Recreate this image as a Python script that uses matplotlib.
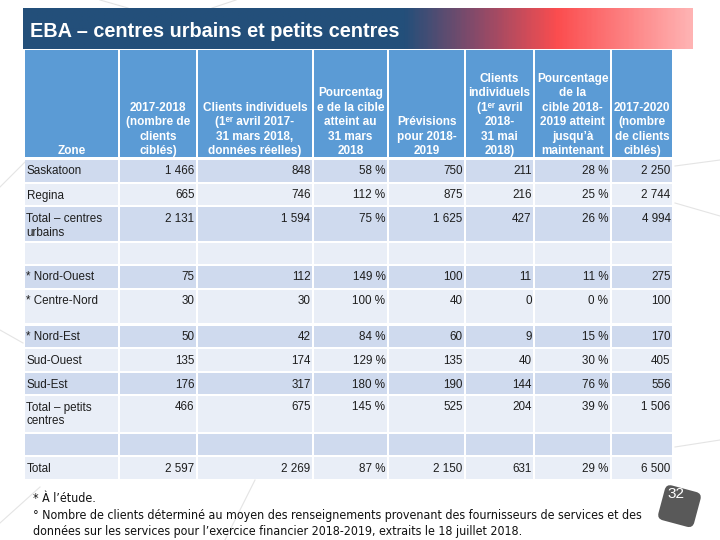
import matplotlib
matplotlib.use("Agg")
import numpy as np
import matplotlib.pyplot as plt
from matplotlib.patches import Rectangle, FancyBboxPatch
from matplotlib.colors import LinearSegmentedColormap
from matplotlib.transforms import Affine2D

# ---- contenu du tableau ----
titre = "EBA – centres urbains et petits centres"

entetes = [
    ["Zone"],
    ["2017-2018", "(nombre de", "clients", "ciblés)"],
    ["Clients individuels", "(1ᵉʳ avril 2017-", "31 mars 2018,", "données réelles)"],
    ["Pourcentag", "e de la cible", "atteint au", "31 mars", "2018"],
    ["Prévisions", "pour 2018-", "2019"],
    ["Clients", "individuels", "(1ᵉʳ avril", "2018-", "31 mai", "2018)"],
    ["Pourcentage", "de la", "cible 2018-", "2019 atteint", "jusqu’à", "maintenant"],
    ["2017-2020", "(nombre", "de clients", "ciblés)"],
]

zones = ["Saskatoon", "Regina", "Total – centres\nurbains", "", "* Nord-Ouest",
         "* Centre-Nord", "* Nord-Est", "Sud-Ouest", "Sud-Est",
         "Total – petits\ncentres", "", "Total"]
cibles_1718 = [1466, 665, 2131, None, 75, 30, 50, 135, 176, 466, None, 2597]
clients_1718 = [848, 746, 1594, None, 112, 30, 42, 174, 317, 675, None, 2269]
pct_1718 = [58, 112, 75, None, 149, 100, 84, 129, 180, 145, None, 87]
prevision_1819 = [750, 875, 1625, None, 100, 40, 60, 135, 190, 525, None, 2150]
clients_1819 = [211, 216, 427, None, 11, 0, 9, 40, 144, 204, None, 631]
pct_1819 = [28, 25, 26, None, 11, 0, 15, 30, 76, 39, None, 29]
cibles_1720 = [2250, 2744, 4994, None, 275, 100, 170, 405, 556, 1506, None, 6500]

notes = ["* À l’étude.",
         "° Nombre de clients déterminé au moyen des renseignements provenant des fournisseurs de services et des",
         "données sur les services pour l’exercice financier 2018-2019, extraits le 18 juillet 2018."]
num_page = "32"

# ---- mise en page (pixels) ----
col_x = [25, 119, 197, 313, 388, 465, 534, 611, 673]
row_top = [160, 184, 207, 243, 266, 290, 326, 349, 373, 396, 434, 457]
row_bot = [182, 205, 241, 264, 288, 323, 347, 371, 394, 432, 455, 479]
head_top, head_bot = 50, 157

BLEU = "#5b9bd5"
FONCE = "#cfdaee"
CLAIR = "#e9eef7"
TXT = "#1e1e1e"
POLICE = ["Liberation Sans", "DejaVu Sans"]


def fr(n):
    return f"{n:,}".replace(",", " ")


def pct(p):
    return f"{p} %"


fig = plt.figure(figsize=(7.2, 5.4), dpi=100)
ax = fig.add_axes([0, 0, 1, 1])
ax.set_xlim(0, 720)
ax.set_ylim(540, 0)
ax.axis("off")
renderer = fig.canvas.get_renderer()


def ajuster(t, largeur):
    # met la police à l'échelle pour que le texte fasse la largeur voulue
    w = t.get_window_extent(renderer).width
    t.set_fontsize(t.get_fontsize() * largeur / w)


# décor discret en fond
for (x0, y0, x1, y1) in [(100, 0, 128, 8), (212, 8, 236, 0), (0, 187, 25, 162),
                         (0, 330, 23, 343), (0, 523, 40, 487), (675, 166, 720, 160),
                         (675, 203, 720, 216), (675, 447, 720, 440), (255, 480, 225, 540)]:
    ax.plot([x0, x1], [y0, y1], color="#e4e4e4", lw=0.8, zorder=0)

# bandeau titre en dégradé
cmap = LinearSegmentedColormap.from_list("bandeau", [
    (0.0, "#234f7a"), (0.57, "#234f7a"), (0.68, "#8a4a69"),
    (0.80, "#fb4d4f"), (1.0, "#ffb3b3")])
ax.imshow(np.linspace(0, 1, 400)[None, :], cmap=cmap, aspect="auto",
          extent=[23, 693, 49, 8], zorder=1)
t = ax.text(30, 37, titre, color="white", fontsize=14, fontweight="bold",
            family=POLICE, va="baseline", ha="left", zorder=2)
ajuster(t, 371)


def cellule(i, top, bot, color):
    x0 = col_x[i] + (1 if i > 0 else 0)
    x1 = col_x[i + 1] - 1
    ax.add_patch(Rectangle((x0, top), x1 - x0, bot - top, facecolor=color,
                           edgecolor="none", zorder=1))
    return x0, x1


# en-tête
for i, lignes in enumerate(entetes):
    x0, x1 = cellule(i, head_top, head_bot, BLEU)
    n = len(lignes)
    for k, ligne in enumerate(lignes):
        y = 154 - (n - 1 - k) * 14.4
        ax.text((x0 + x1) / 2, y, ligne, color="white", fontsize=8.5,
                fontweight="bold", family=POLICE, ha="center", va="baseline", zorder=2)

# corps
colonnes = [cibles_1718, clients_1718, pct_1718, prevision_1819,
            clients_1819, pct_1819, cibles_1720]
formats = [fr, fr, pct, fr, fr, pct, fr]
for r in range(len(zones)):
    couleur = FONCE if r % 2 == 0 else CLAIR
    top, bot = row_top[r], row_bot[r]
    x0, x1 = cellule(0, top, bot, couleur)
    for k, ligne in enumerate(zones[r].split("\n")):
        if ligne:
            ax.text(x0 + 1.5, top + 14.5 + k * 14, ligne, color=TXT, fontsize=8.4,
                    family=POLICE, ha="left", va="baseline", zorder=2)
    for c, (vals, f) in enumerate(zip(colonnes, formats)):
        x0, x1 = cellule(c + 1, top, bot, couleur)
        if vals[r] is not None:
            ax.text(x1 - 1.5, top + 14.5, f(vals[r]), color=TXT, fontsize=8.4,
                    family=POLICE, ha="right", va="baseline", zorder=2)

# notes de bas de page (police condensée)
txt_notes = [ax.text(33, 502 + k * 16.5, ligne, color="#111111", fontsize=9.6,
                     family="DejaVu Sans", fontstretch="condensed",
                     ha="left", va="baseline", zorder=2)
             for k, ligne in enumerate(notes)]
ajuster(txt_notes[1], 612)
for t in txt_notes:
    t.set_fontsize(txt_notes[1].get_fontsize())

# pastille du numéro de page
rot = Affine2D().rotate_deg_around(679, 506, 15) + ax.transData
ax.add_patch(FancyBboxPatch((661, 488), 37, 36, boxstyle="round,pad=0,rounding_size=6",
                            facecolor="#595959", edgecolor="none", transform=rot, zorder=2))
ax.text(676, 494, num_page, color="white", fontsize=11, family=POLICE,
        ha="center", va="center", zorder=3)

fig.savefig("out.png", dpi=100)
